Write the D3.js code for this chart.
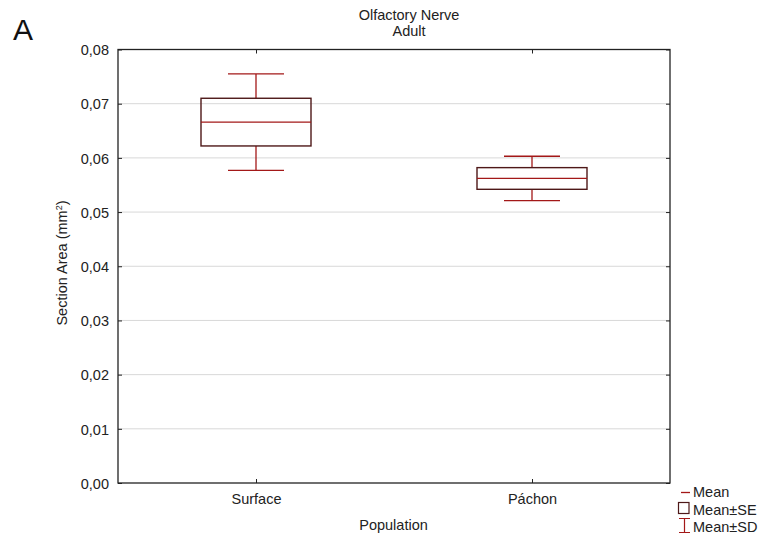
<!DOCTYPE html>
<html lang="en">
<head>
  <meta charset="UTF-8">
  <title>Olfactory Nerve - Adult</title>
  <style>
    body { margin: 0; background: #fff; }
    svg { font-family: "Liberation Sans", Arial, sans-serif; }
    .axis text { font-size: 14.5px; fill: #222; }
  </style>
</head>
<body>
  <svg></svg>
  <script src="https://d3js.org/d3.v7.min.js"></script>
  <script>
    // values
    var categories = ["Surface", "Páchon"];
    var means = [0.0666, 0.0562];
    var seHalf = [0.0044, 0.0020];
    var sdHalf = [0.0089, 0.0041];
    var yTicks = [0, 0.01, 0.02, 0.03, 0.04, 0.05, 0.06, 0.07, 0.08];
    var legendItems = ["Mean", "Mean±SE", "Mean±SD"];

    var width = 765;
    var height = 539;
    var plotL = 118, plotR = 670, plotT = 49.5, plotB = 483;

    var boxColor = "#4e1818";
    var redColor = "#a31818";

    var svg = d3.select("svg")
        .attr("width", width)
        .attr("height", height);

    var xScale = d3.scalePoint()
                   .domain(categories)
                   .range([plotL, plotR])
                   .padding(0.5);

    var yScale = d3.scaleLinear()
                   .domain([0, 0.08])
                   .range([plotB, plotT]);

    var comma = d3.formatLocale({decimal: ",", thousands: ".", grouping: [3], currency: ["", ""]});
    var fmt = comma.format(".2f");

    // grid
    svg.append("g")
      .selectAll("line")
      .data(yTicks.slice(1, -1))
      .enter()
      .append("line")
        .attr("x1", plotL)
        .attr("x2", plotR)
        .attr("y1", d => yScale(d))
        .attr("y2", d => yScale(d))
        .attr("stroke", "#d8d8d8")
        .attr("stroke-width", 1);

    // axes (ticks point inward)
    var yAxis = svg.append("g")
        .attr("class", "axis")
        .attr("transform", `translate(${plotL},0)`)
        .call(d3.axisLeft(yScale).tickValues(yTicks).tickFormat(fmt).tickSizeInner(-4).tickSizeOuter(0).tickPadding(9));
    yAxis.selectAll("text").attr("dy", "0.36em");

    svg.append("g")
        .attr("transform", `translate(${plotR},0)`)
        .call(d3.axisRight(yScale).tickValues(yTicks).tickFormat("").tickSizeInner(-4).tickSizeOuter(0));

    svg.append("g")
        .attr("class", "axis")
        .attr("transform", `translate(0,${plotB})`)
        .call(d3.axisBottom(xScale).tickSizeInner(-4).tickSizeOuter(0).tickPadding(11));

    svg.append("g")
        .attr("transform", `translate(0,${plotT})`)
        .call(d3.axisTop(xScale).tickFormat("").tickSizeInner(-4).tickSizeOuter(0));

    svg.selectAll(".domain").remove();
    svg.selectAll(".tick line").attr("stroke", "#222");

    svg.append("rect")
        .attr("x", plotL)
        .attr("y", plotT)
        .attr("width", plotR - plotL)
        .attr("height", plotB - plotT)
        .attr("fill", "none")
        .attr("stroke", "#222")
        .attr("stroke-width", 1.3);

    // boxes
    var boxW = 110, capW = 56;
    var groups = svg.append("g")
      .selectAll("g")
      .data(categories)
      .enter()
      .append("g");

    groups.append("line")
        .attr("x1", d => xScale(d))
        .attr("x2", d => xScale(d))
        .attr("y1", (d, i) => yScale(means[i] + sdHalf[i]))
        .attr("y2", (d, i) => yScale(means[i] + seHalf[i]))
        .attr("stroke", redColor).attr("stroke-width", 1.3);
    groups.append("line")
        .attr("x1", d => xScale(d))
        .attr("x2", d => xScale(d))
        .attr("y1", (d, i) => yScale(means[i] - seHalf[i]))
        .attr("y2", (d, i) => yScale(means[i] - sdHalf[i]))
        .attr("stroke", redColor).attr("stroke-width", 1.3);
    groups.append("line")
        .attr("x1", d => xScale(d) - capW / 2)
        .attr("x2", d => xScale(d) + capW / 2)
        .attr("y1", (d, i) => yScale(means[i] + sdHalf[i]))
        .attr("y2", (d, i) => yScale(means[i] + sdHalf[i]))
        .attr("stroke", redColor).attr("stroke-width", 1.3);
    groups.append("line")
        .attr("x1", d => xScale(d) - capW / 2)
        .attr("x2", d => xScale(d) + capW / 2)
        .attr("y1", (d, i) => yScale(means[i] - sdHalf[i]))
        .attr("y2", (d, i) => yScale(means[i] - sdHalf[i]))
        .attr("stroke", redColor).attr("stroke-width", 1.3);
    groups.append("rect")
        .attr("x", d => xScale(d) - boxW / 2)
        .attr("y", (d, i) => yScale(means[i] + seHalf[i]))
        .attr("width", boxW)
        .attr("height", (d, i) => yScale(means[i] - seHalf[i]) - yScale(means[i] + seHalf[i]))
        .attr("fill", "none")
        .attr("stroke", boxColor).attr("stroke-width", 1.4);
    groups.append("line")
        .attr("x1", d => xScale(d) - boxW / 2)
        .attr("x2", d => xScale(d) + boxW / 2)
        .attr("y1", (d, i) => yScale(means[i]))
        .attr("y2", (d, i) => yScale(means[i]))
        .attr("stroke", redColor).attr("stroke-width", 1.3);

    // titles and labels
    svg.append("text")
        .attr("x", 13).attr("y", 40)
        .attr("font-size", 30).attr("fill", "#111")
        .text("A");
    svg.append("text")
        .attr("x", 409).attr("y", 19.5)
        .attr("text-anchor", "middle").attr("font-size", 14.5).attr("fill", "#222")
        .text("Olfactory Nerve");
    svg.append("text")
        .attr("x", 409).attr("y", 36)
        .attr("text-anchor", "middle").attr("font-size", 14.5).attr("fill", "#222")
        .text("Adult");
    svg.append("text")
        .attr("x", 393.5).attr("y", 530)
        .attr("text-anchor", "middle").attr("font-size", 14.5).attr("fill", "#222")
        .text("Population");
    var ylab = svg.append("text")
        .attr("transform", "translate(67,263) rotate(-90)")
        .attr("text-anchor", "middle").attr("font-size", 14.5).attr("fill", "#222");
    ylab.append("tspan").text("Section Area (mm");
    ylab.append("tspan").attr("dy", -5).attr("font-size", 9).text("2");
    ylab.append("tspan").attr("dy", 5).text(")");

    // legend
    var legend = svg.append("g");
    legend.append("line")
        .attr("x1", 681).attr("x2", 690).attr("y1", 492.5).attr("y2", 492.5)
        .attr("stroke", redColor).attr("stroke-width", 1.3);
    legend.append("rect")
        .attr("x", 678.5).attr("y", 502.5).attr("width", 10.5).attr("height", 11)
        .attr("fill", "none").attr("stroke", boxColor).attr("stroke-width", 1.2);
    legend.append("path")
        .attr("d", "M679,518.5H690M684.5,518.5V532.5M679,532.5H690")
        .attr("fill", "none").attr("stroke", redColor).attr("stroke-width", 1.2);
    legend.selectAll("text")
      .data(legendItems)
      .enter()
      .append("text")
        .attr("x", 693)
        .attr("y", (d, i) => 497 + i * 17.5)
        .attr("font-size", 14.5).attr("fill", "#222")
        .text(d => d);
  </script>
</body>
</html>
